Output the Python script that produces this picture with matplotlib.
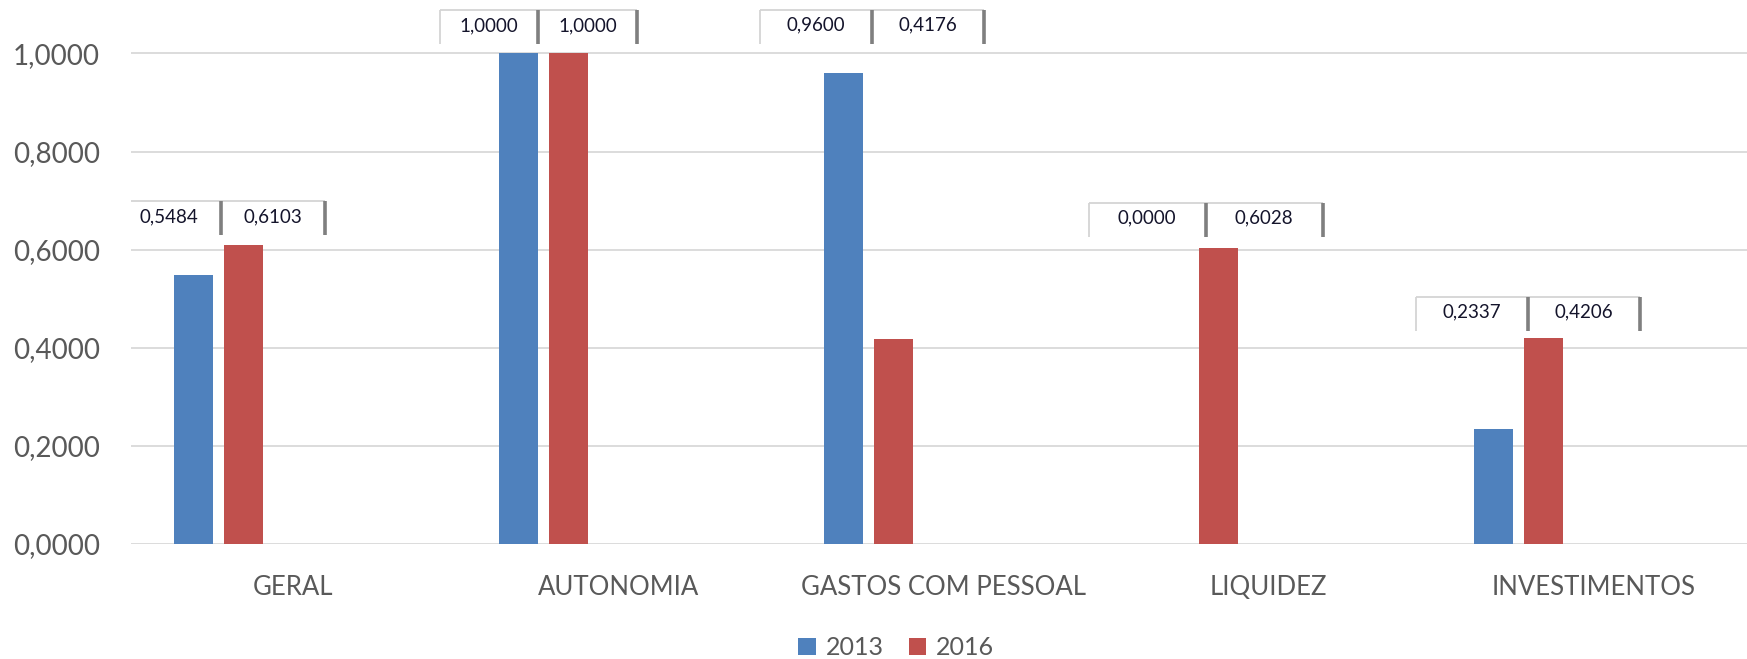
import numpy as np
import matplotlib
matplotlib.use("Agg")
import matplotlib.pyplot as plt
from matplotlib.patches import Rectangle, Patch

# data
categories = ["GERAL", "AUTONOMIA", "GASTOS COM PESSOAL", "LIQUIDEZ", "INVESTIMENTOS"]
series_names = ["2013", "2016"]
values_2013 = [0.5484, 1.0000, 0.9600, 0.0000, 0.2337]
values_2016 = [0.6103, 1.0000, 0.4176, 0.6028, 0.4206]
y_ticks = [0.0, 0.2, 0.4, 0.6, 0.8, 1.0]

# layout (label boxes, in category units)
box_left = [-0.542, -0.549, -0.564, -0.553, -0.545]
cell_w = [0.320, 0.303, 0.344, 0.360, 0.344]
box_nudge = [0.0, 0.0, 0.041, 0.005, -0.005]

colors = ["#4f81bd", "#c0504d"]
plt.rcParams["font.family"] = ["Lato", "DejaVu Sans"]

fig = plt.figure(figsize=(17.47, 6.59), dpi=100, facecolor="white")
ax = fig.add_axes([0.0748, 0.1745, 0.9252, 0.8255])

x = np.arange(len(categories))
step = 0.153
width = 0.12
for i, (vals, col) in enumerate(zip([values_2013, values_2016], colors)):
    ax.bar(x + (i - 2) * step, vals, width=width, color=col, zorder=3)

ax.set_xlim(-0.5, 4.473)
ax.set_ylim(0, 1.109)
ax.set_yticks(y_ticks)
ax.set_yticklabels([f"{t:.4f}".replace(".", ",") for t in y_ticks])
ax.set_xticks(x)
ax.set_xticklabels(categories)
ax.tick_params(axis="y", length=0, pad=22, labelsize=20, labelcolor="#595959")
ax.tick_params(axis="x", length=0, pad=22, labelsize=18.5, labelcolor="#595959")

for t in y_ticks:
    ax.axhline(t, color="#d9d9d9", linewidth=1.3, zorder=1)
for s in ax.spines.values():
    s.set_visible(False)

# boxed data labels
box_h = 0.069
for i in range(len(categories)):
    pair = [values_2013[i], values_2016[i]]
    top = max(pair) + 0.088 + box_nudge[i]
    for j, v in enumerate(pair):
        left = i + box_left[i] + j * cell_w[i]
        right = left + cell_w[i]
        ax.add_patch(Rectangle((left, top - box_h), cell_w[i], box_h,
                               facecolor="white", edgecolor="none", zorder=4))
        ax.plot([left, right], [top, top], color="#d4d4d4", lw=1.3, zorder=5,
                solid_capstyle="butt")
        ax.plot([left, left], [top, top - box_h], color="#d4d4d4", lw=1.3, zorder=5,
                solid_capstyle="butt")
        ax.plot([right, right], [top, top - box_h], color="#7f7f7f", lw=2.6, zorder=6,
                solid_capstyle="butt")
        ax.text((left + right) / 2, top - 0.031, f"{v:.4f}".replace(".", ","),
                ha="center", va="center", fontsize=13.5, color="#14142b", zorder=7)

handles = [Patch(facecolor=c, edgecolor="none") for c in colors]
fig.legend(handles, series_names, loc="center", bbox_to_anchor=(0.513, 0.017),
           ncol=2, frameon=False, fontsize=18, labelcolor="#595959",
           handlelength=0.7, handleheight=0.7, handletextpad=0.4,
           columnspacing=1.0, borderaxespad=0, borderpad=0)

fig.savefig("out.png", dpi=100, facecolor="white")
